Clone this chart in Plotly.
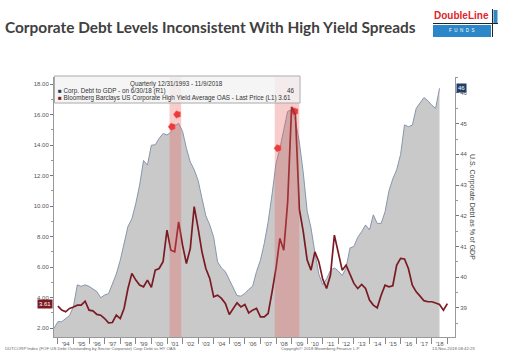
import plotly.graph_objects as go

# ---------------- data ----------------
def quarter_ends(year, q, n):
    ends = {1: "03-31", 2: "06-30", 3: "09-30", 4: "12-31"}
    out = []
    for _ in range(n):
        out.append(f"{year}-{ends[q]}")
        q += 1
        if q == 5:
            q, year = 1, year + 1
    return out

# U.S. corporate debt as % of GDP (right axis), quarterly 9/30/1993 - 6/30/2018
debt_dates = quarter_ends(1993, 3, 100)
debt_pct = [
    38.33, 38.55, 38.55, 38.66, 38.75, 39.05, 39.75, 39.70, 39.75, 39.70,
    39.62, 39.53, 39.33, 39.42, 39.46, 39.75, 40.10, 40.55, 41.10, 41.65,
    41.90, 42.40, 43.00, 43.80, 43.65, 44.30, 44.31, 44.52, 44.68, 44.63,
    44.72, 44.93, 45.01, 44.75, 44.20, 43.75, 43.50, 43.15, 42.57, 42.00,
    41.70, 41.30, 40.50, 40.30, 40.18, 39.90, 39.64, 39.40, 39.38, 39.47,
    39.60, 39.70, 40.18, 40.55, 41.10, 41.80, 42.70, 43.70, 44.20, 44.85,
    45.40, 45.45, 45.10, 44.40, 43.40, 42.15, 41.60, 40.80, 40.10, 39.75,
    39.95, 40.22, 40.30, 40.20, 40.05, 40.30, 40.95, 41.00, 41.30, 41.48,
    41.70, 41.54, 42.03, 41.75, 41.75, 42.13, 42.80, 43.20, 43.50, 44.00,
    44.96, 44.90, 44.95, 45.50, 45.66, 45.85, 45.75, 45.60, 45.50, 46.15,
]

# Bloomberg Barclays US Corporate HY average OAS (left axis), quarterly, last = 11/9/2018
oas_dates = quarter_ends(1993, 4, 101)
hy_oas = [
    3.44, 3.18, 3.07, 3.29, 3.39, 3.51, 3.51, 3.77, 3.18, 3.13,
    2.90, 2.85, 2.63, 2.35, 2.37, 2.85, 2.63, 3.29, 4.60, 5.59,
    5.15, 4.82, 4.71, 5.15, 4.67, 5.80, 5.91, 6.35, 8.43, 7.11,
    7.00, 8.97, 7.44, 6.24, 7.22, 9.96, 8.54, 7.00, 5.91, 5.26,
    4.05, 4.16, 3.95, 3.62, 2.90, 3.29, 3.66, 3.39, 3.55, 3.00,
    3.18, 3.29, 2.74, 2.74, 2.96, 4.38, 5.91, 7.88, 7.11, 10.28,
    16.51, 15.97, 9.80, 8.32, 6.46, 5.80, 7.00, 6.35, 5.20, 4.60,
    5.48, 8.10, 7.00, 5.80, 6.13, 5.48, 4.93, 4.60, 4.86, 4.60,
    3.84, 3.51, 3.33, 4.16, 4.82, 4.71, 4.78, 6.13, 6.57, 6.53,
    5.91, 4.82, 4.38, 4.10, 3.80, 3.73, 3.73, 3.65, 3.55, 3.18,
    3.61,
]

# recession bands
recession_starts = ["2001-03-01", "2007-12-01"]
recession_ends = ["2001-11-30", "2009-06-30"]

# Bloomberg event markers (date, level on right axis)
event_dates = ["2001-04-30", "2001-08-31", "2008-02-15", "2009-03-15"]
event_levels = [44.9, 45.3, 44.2, 45.4]

# ---------------- layout helpers ----------------
W, H = 512, 358
PL, PR, PT, PB = 54, 455, 77, 337  # plot box in pixels


def xp(px):
    return (px - PL) / (PR - PL)


def yp(py):
    return (PB - py) / (PB - PT)


DARK_RED = "#7b1a22"
NAVY = "#1f3f66"
SANS = "Liberation Sans, Arial, sans-serif"
TICKFONT = dict(family=SANS, size=6, color="#555")

fig = go.Figure()

fig.add_trace(go.Scatter(
    x=debt_dates, y=debt_pct, yaxis="y", mode="lines",
    fill="tozeroy", fillcolor="#c9c9c9",
    line=dict(color="#8796ad", width=1),
    name="Corp. Debt to GDP", showlegend=False, hoverinfo="skip",
))
fig.add_trace(go.Scatter(
    x=event_dates, y=event_levels, yaxis="y", mode="markers",
    marker=dict(symbol="pentagon", angle=-90, size=8, color="#e8282c",
                line=dict(color="#ff9a9a", width=0.5)),
    showlegend=False, hoverinfo="skip",
))
fig.add_trace(go.Scatter(
    x=oas_dates, y=hy_oas, yaxis="y2", mode="lines",
    line=dict(color=DARK_RED, width=1.7),
    name="HY OAS", showlegend=False, hoverinfo="skip",
))

shapes = []
for s, e in zip(recession_starts, recession_ends):
    shapes.append(dict(type="rect", xref="x", yref="paper", x0=s, x1=e, y0=0, y1=1,
                       fillcolor="rgba(235,95,95,0.32)", line=dict(width=0), layer="above"))
# legend box
shapes.append(dict(type="rect", xref="paper", yref="paper",
                   x0=xp(54.5), x1=xp(300), y0=yp(103), y1=yp(76),
                   fillcolor="rgba(243,243,243,0.82)", line=dict(color="#aaaaaa", width=1),
                   layer="above"))
# logo pieces
shapes += [
    dict(type="rect", xref="paper", yref="paper", x0=xp(433), x1=xp(491), y0=yp(37), y1=yp(25),
         fillcolor="#2b87c8", line=dict(width=0)),
    dict(type="rect", xref="paper", yref="paper", x0=xp(493.5), x1=xp(497.5), y0=yp(23), y1=yp(10),
         fillcolor="#2b87c8", line=dict(width=0)),
    dict(type="line", xref="paper", yref="paper", x0=xp(433), x1=xp(498), y0=yp(23.5), y1=yp(23.5),
         line=dict(color="#222", width=1)),
    dict(type="line", xref="paper", yref="paper", x0=xp(492.5), x1=xp(492.5), y0=yp(37), y1=yp(9),
         line=dict(color="#222", width=1)),
]

LEG = dict(family=SANS, size=6.3, color="#333")
FOOT = dict(family=SANS, size=4.3, color="#666")
ann = [
    dict(text="Quarterly 12/31/1993 - 11/9/2018", x=xp(176), y=yp(84), xanchor="center",
         yanchor="middle", font=LEG),
    dict(text=f'<span style="color:{NAVY}">■</span> Corp. Debt to GDP - on 6/30/18 (R1)',
         x=xp(56), y=yp(90.5), xanchor="left", yanchor="middle", font=LEG),
    dict(text="46", x=xp(297), y=yp(90.5), xanchor="right", yanchor="middle", font=LEG),
    dict(text=f'<span style="color:{DARK_RED}">■</span> Bloomberg Barclays US Corporate High Yield '
              f'Average OAS - Last Price (L1) 3.61',
         x=xp(56), y=yp(97.5), xanchor="left", yanchor="middle", font=LEG),
    # last-value boxes
    dict(text="3.61", xref="paper", yref="y2", x=0, y=hy_oas[-1], xanchor="right", yanchor="middle",
         xshift=-1, bgcolor=DARK_RED, borderpad=1,
         font=dict(family=SANS, size=6, color="white")),
    dict(text="46", xref="paper", yref="y", x=1, y=debt_pct[-1], xanchor="left", yanchor="middle",
         xshift=1, bgcolor=NAVY, borderpad=1,
         font=dict(family=SANS, size=6, color="white")),
    # right axis title
    dict(text="U.S. Corporate Debt as % of GDP", x=xp(472), y=yp(207), textangle=90,
         xanchor="center", yanchor="middle",
         font=dict(family=SANS, size=7, color="#444")),
    # footer
    dict(text="DUTCORP Index (FOF US Debt Outstanding by Sector Corporate) Corp Debt vs HY OAS",
         x=xp(3), y=yp(348.5), xanchor="left", yanchor="middle", font=FOOT),
    dict(text="Copyright© 2018 Bloomberg Finance L.P.", x=xp(279), y=yp(348.5), xanchor="left",
         yanchor="middle", font=FOOT),
    dict(text="13-Nov-2018 08:42:23", x=xp(430), y=yp(348.5), xanchor="left", yanchor="middle",
         font=FOOT),
    # logo text
    dict(text="<b>DoubleLine</b>", x=xp(462), y=yp(15.5), xanchor="center", yanchor="middle",
         font=dict(family=SANS, size=10, color="#e0262b")),
    dict(text="F  U  N  D  S", x=xp(462), y=yp(31), xanchor="center", yanchor="middle",
         font=dict(family=SANS, size=4.5, color="white")),
]
for a in ann:
    a.setdefault("xref", "paper")
    a.setdefault("yref", "paper")
    a.setdefault("showarrow", False)

fig.update_layout(
    width=W, height=H,
    margin=dict(l=PL, r=W - PR, t=PT, b=H - PB, pad=0, autoexpand=False),
    paper_bgcolor="white", plot_bgcolor="white",
    showlegend=False,
    title=dict(text="Corporate Debt Levels Inconsistent With High Yield Spreads",
               x=5 / W, xanchor="left", xref="container", y=1 - 28 / H, yanchor="middle",
               yref="container", automargin=False,
               font=dict(family="Lato, Open Sans, sans-serif", size=15.4, color="#404040",
                         weight=700)),
    xaxis=dict(type="date", range=["1993-09-30", "2019-06-28"], dtick="M12",
               tick0="1994-01-01", ticklabelmode="period", tickformat="'%y",
               ticks="outside", ticklen=6, ticklabelstandoff=-5, tickcolor="#888",
               showline=True, automargin=False,
               linecolor="#999", linewidth=1, tickfont=TICKFONT,
               showgrid=False, zeroline=False),
    yaxis=dict(side="right", range=[38.05, 46.52], dtick=1, tick0=0, tickformat="d",
               ticks="outside", ticklen=3, tickcolor="#777", showline=True, automargin=False,
               linecolor="#999", linewidth=1, tickfont=TICKFONT,
               minor=dict(dtick=0.5, ticks="outside", ticklen=2, tickcolor="#999"),
               showgrid=False, zeroline=False),
    yaxis2=dict(overlaying="y", side="left", range=[1.42, 18.46], dtick=2, tick0=0,
                tickformat=".2f", ticks="outside", ticklen=3, tickcolor="#777",
                showline=True, automargin=False,
                linecolor="#999", linewidth=1, tickfont=TICKFONT,
                minor=dict(dtick=1, ticks="outside", ticklen=2, tickcolor="#999"),
                showgrid=False, zeroline=False),
    shapes=shapes,
    annotations=ann,
)

fig.write_html("out.html", config={"displayModeBar": False},
               post_script="document.body.style.margin='0';document.body.style.padding='0';")
